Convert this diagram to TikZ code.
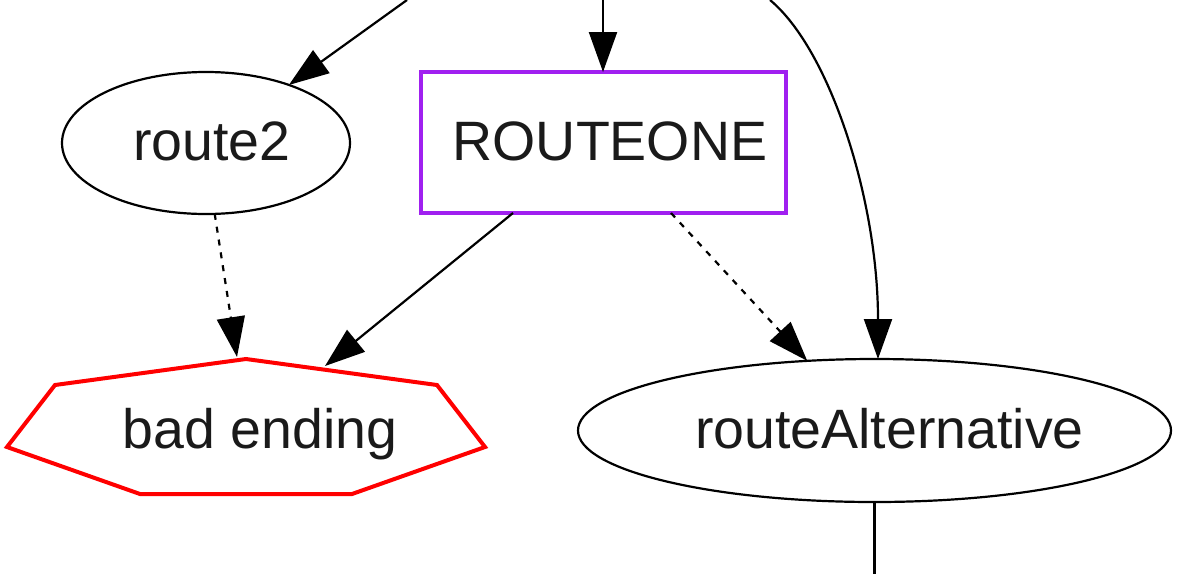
\documentclass[tikz,border=0pt]{standalone}
\usepackage{fontspec}
\setmainfont{Liberation Sans}
\usetikzlibrary{shapes.geometric,arrows.meta,calc}
\definecolor{routepurple}{HTML}{A020F0}
\definecolor{txt}{HTML}{1A1A1A}
\begin{document}
\begin{tikzpicture}[x=0.5pt,y=-0.5pt,
  lbl/.style={font=\fontsize{27.75}{33}\selectfont, text=txt, text height=17.5pt, text depth=0pt, inner sep=0pt, outer sep=0pt},
  ell/.style={lbl, ellipse, draw, line width=1.1pt},
  edge/.style={line width=1.1pt, -{Triangle[length=20pt,width=14pt]}},
  dashedge/.style={edge, dash pattern=on 3pt off 3.5pt}]
\useasboundingbox (0,0) rectangle (1182,574);
% nodes
\node[ell, minimum width=144pt, minimum height=71pt] (route2) at (206,143) {\makebox[0pt]{\hspace*{6pt}route2}};
\node[lbl, draw=routepurple, line width=2pt, minimum width=182.5pt, minimum height=70.5pt] (R) at (603,142.5) {\makebox[0pt]{\hspace*{7pt}ROUTEONE}};
\node[ell, minimum width=296.5pt, minimum height=71.5pt] (RA) at (874.5,430.5) {\makebox[0pt]{\hspace*{15pt}routeAlternative}};
% heptagon (bad ending)
\coordinate (h1) at (246,359);
\coordinate (h2) at (437,385);
\coordinate (h3) at (485,447);
\coordinate (h4) at (352,494);
\coordinate (h5) at (140,494);
\coordinate (h6) at (7,447);
\coordinate (h7) at (55,385);
\draw[red, line width=2pt, line join=miter] (h1) -- (h2) -- (h3) -- (h4) -- (h5) -- (h6) -- (h7) -- cycle;
\node[lbl] (bad) at (260,430.5) {bad ending};
\coordinate (be1) at (237,357);
\coordinate (be2) at (325,366);
% free ends
\coordinate (top1) at (407,0);
\coordinate (top2) at (603,0);
\coordinate (top3) at (770,0);
\coordinate (bot) at (874.5,574);
% edges
\draw[edge] (top1) -- (route2.35);
\draw[edge] (top2) -- (R.north);
\draw[edge] (top3) .. controls (830,50) and (878,200) .. ([xshift=1.75pt]RA.north);
\draw[dashedge] (route2.-83) -- (be1);
\draw[edge] ([xshift=-45pt]R.south) -- (be2);
\draw[dashedge] ([xshift=34pt]R.south) -- (RA.134.5);
\draw[line width=1.1pt] (RA.south) -- (bot);
\end{tikzpicture}
\end{document}
